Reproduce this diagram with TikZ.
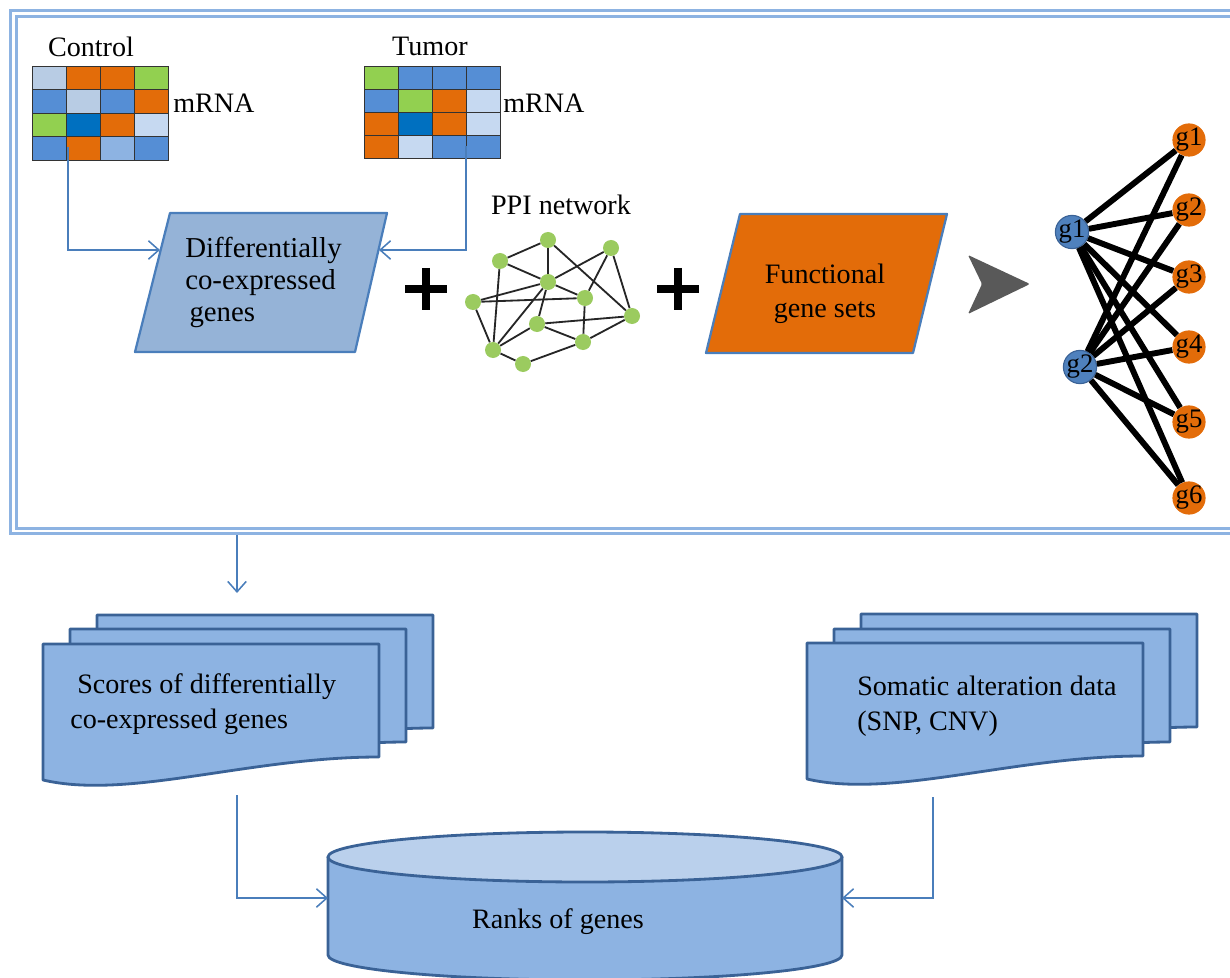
\documentclass[tikz,border=0pt]{standalone}
\usepackage{fontspec}
\setmainfont{Liberation Serif}
\usepackage{tikz}
\usetikzlibrary{arrows.meta}
\definecolor{framecol}{RGB}{141,179,226}
\definecolor{flowblue}{RGB}{74,126,187}
\definecolor{edgeblue}{RGB}{58,98,150}
\definecolor{docfill}{RGB}{141,179,226}
\definecolor{cyltopfill}{RGB}{186,208,236}
\definecolor{parafill}{RGB}{149,179,215}
\definecolor{orangec}{RGB}{227,108,9}
\definecolor{greenc}{RGB}{146,208,80}
\definecolor{bluec}{RGB}{85,142,213}
\definecolor{darkbluec}{RGB}{0,112,192}
\definecolor{lightc}{RGB}{184,204,228}
\definecolor{palec}{RGB}{198,217,241}
\definecolor{midc}{RGB}{141,179,226}
\definecolor{ppigreen}{RGB}{155,203,95}
\definecolor{headgray}{RGB}{89,89,89}
\definecolor{gblue}{RGB}{79,129,189}

\newcommand{\docpage}[2]{%
  \filldraw[docbox] (#1,-#2) -- ({#1+336},-#2) -- ({#1+336},{-#2-113})
    .. controls ({#1+206},{-#2-113}) and ({#1+86},{-#2-156}) .. (#1,{-#2-136}) -- cycle;}

\begin{document}
\begin{tikzpicture}[x=0.025cm, y=0.025cm,
    txt/.style={font=\fontsize{20}{24.8}\selectfont, inner sep=0pt},
    frameline/.style={draw=framecol, line width=2pt, double=white, double distance=2pt},
    cell/.style={draw=black!80, line width=0.6pt},
    flow/.style={draw=flowblue, line width=1.1pt, -{Straight Barb[length=2.6mm,width=4.6mm]}},
    para/.style={draw=flowblue, line width=1.6pt, line join=round},
    plussign/.style={line width=5pt, black},
    ppi/.style={circle, fill=ppigreen, minimum size=0.4cm, inner sep=0pt},
    ppiedge/.style={line width=1.3pt, black!85},
    gnode/.style={circle, minimum size=0.83cm, inner sep=0pt, font=\fontsize{19}{22}\selectfont},
    gleft/.style={gnode, fill=gblue, draw=edgeblue, line width=0.8pt},
    gright/.style={gnode, fill=orangec},
    bedge/.style={line width=4.2pt, black},
    docbox/.style={fill=docfill, draw=edgeblue, line width=2pt, line join=round},
    cylline/.style={draw=edgeblue, line width=2pt}
  ]
  \useasboundingbox (0,0) rectangle (1230,-978);
  \draw[frameline] (13.5,-13.5) rectangle (1245,-531);

  % expression matrices
  \foreach \cells [count=\r from 0] in {{lightc,orangec,orangec,greenc},{bluec,lightc,bluec,orangec},
      {greenc,darkbluec,orangec,palec},{bluec,orangec,midc,bluec}}
    \foreach \cc [count=\c from 0] in \cells
      \filldraw[cell, fill=\cc] ({32+34*\c},{-66-23.5*\r}) rectangle ++(34,-23.5);
  \foreach \cells [count=\r from 0] in {{greenc,bluec,bluec,bluec},{bluec,greenc,orangec,palec},
      {orangec,darkbluec,orangec,palec},{orangec,palec,bluec,bluec}}
    \foreach \cc [count=\c from 0] in \cells
      \filldraw[cell, fill=\cc] ({364+34*\c},{-66-23*\r}) rectangle ++(34,-23);
  \node[txt, anchor=base] (ctrllbl) at (91,-57) {Control};
  \node[txt, anchor=base] (tumlbl) at (430,-56) {Tumor};
  \node[txt, anchor=base west] (ctrlmrna) at (173,-113) {mRNA};
  \node[txt, anchor=base west] (tummrna) at (503,-113) {mRNA};

  \filldraw[para, fill=parafill] (170,-213) -- (387,-213) -- (355,-352) -- (135,-352) -- cycle;
  \node[txt, font=\fontsize{20.5}{22.5}\selectfont, anchor=base west, align=left] (difftxt) at (185,-321)
    {Differentially\\co-expressed\\\hspace*{3pt}genes};
  \coordinate (ctrlout) at (68,-147);
  \coordinate (tumout) at (466,-146);
  \coordinate (diffinL) at (160,-250);
  \coordinate (diffinR) at (379,-250);
  \draw[flow] (ctrlout) |- (diffinL);
  \draw[flow] (tumout) |- (diffinR);

  \draw[plussign] (405,-289) -- (447,-289) (426,-268) -- (426,-310);
  \draw[plussign] (657,-289) -- (699,-289) (678,-268) -- (678,-310);

  % PPI network
  \node[txt, anchor=base] (ppilbl) at (561,-215) {PPI network};
  \foreach \n/\px/\py in {1/548/240, 2/500/261, 3/611/248, 4/548/282, 5/585/298, 6/473/302,
      7/632/316, 8/537/324, 9/583/342, 10/493/350, 11/523/364}
    \node[ppi] (p\n) at (\px,-\py) {};
  \foreach \s/\t in {1/2, 1/4, 1/7, 2/4, 2/10, 3/4, 3/5, 3/7, 4/5, 4/8, 4/10, 6/4, 6/5, 6/10,
      8/7, 8/9, 8/10, 5/9, 9/7, 10/11, 11/9}
    \draw[ppiedge] (p\s) -- (p\t);

  \filldraw[para, fill=orangec] (740,-214) -- (947,-214) -- (913,-353) -- (706,-353) -- cycle;
  \node[txt, anchor=base, align=center] (functxt) at (825,-318) {Functional\\gene sets};

  \fill[headgray, rounded corners=1pt] (968,-255) -- (1030,-284) -- (968,-314) -- (982,-284) -- cycle;

  % bipartite graph
  \node[gleft] (L1) at (1072,-232) {\makebox[0pt]{g1}};
  \node[gleft] (L2) at (1080,-367) {\makebox[0pt]{g2}};
  \foreach \n/\py in {1/140, 2/210, 3/277, 4/347, 5/422, 6/498}
    \node[gright] (R\n) at (1189,-\py) {\makebox[0pt]{g\n}};
  \foreach \l in {1,2}
    \foreach \r in {1,...,6}
      \draw[bedge] (L\l) -- (R\r);

  % score and alteration data
  \coordinate (panelout) at (237,-535);
  \coordinate (scorein) at (237,-593);
  \draw[flow] (panelout) -- (scorein);
  \docpage{97}{615}
  \docpage{70}{629}
  \docpage{43}{644}
  \node[txt, anchor=base west, align=left] (scoretxt) at (70,-728) {\hspace*{5pt}Scores of differentially\\co-expressed genes};
  \docpage{861}{614}
  \docpage{834}{629}
  \docpage{807}{643}
  \node[txt, anchor=base west, align=left] (somatxt) at (857,-730) {Somatic alteration data\\(SNP, CNV)};

  % ranks
  \fill[docfill] (328,-857) -- (328,-955) arc[start angle=180, end angle=360, x radius=257, y radius=25] -- (842,-857) -- cycle;
  \draw[cylline] (328,-857) -- (328,-955) arc[start angle=180, end angle=360, x radius=257, y radius=25] -- (842,-857);
  \filldraw[cylline, fill=cyltopfill] (585,-857) ellipse[x radius=257, y radius=25];
  \node[txt, anchor=base] (rankstxt) at (558,-928) {Ranks of genes};
  \coordinate (scoreout) at (237,-795);
  \coordinate (somaout) at (933,-797);
  \coordinate (rankinL) at (328,-898);
  \coordinate (rankinR) at (842,-898);
  \draw[flow] (scoreout) |- (rankinL);
  \draw[flow] (somaout) |- (rankinR);
\end{tikzpicture}
\end{document}
